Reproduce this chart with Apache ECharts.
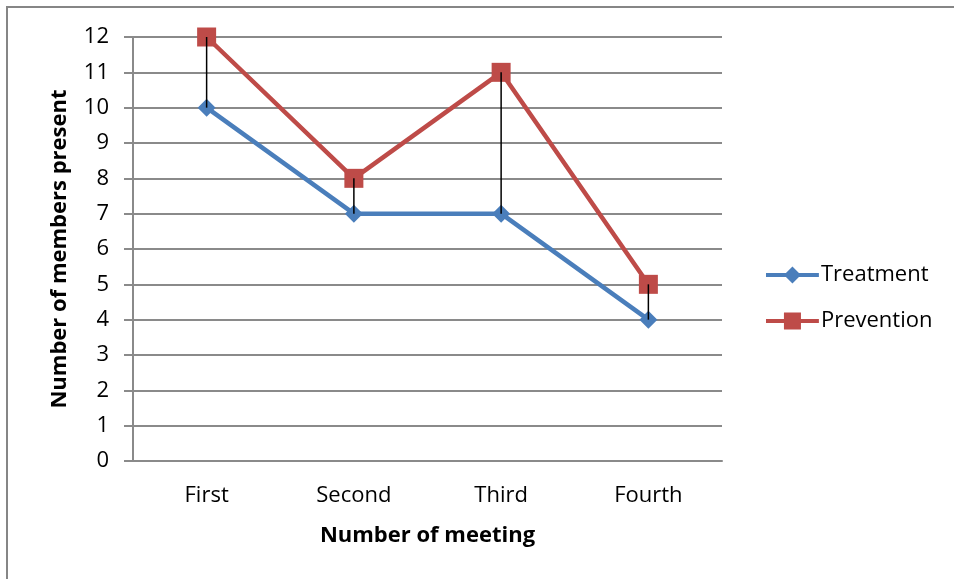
<!DOCTYPE html>
<html>
<head>
<meta charset="utf-8">
<script src="https://cdn.jsdelivr.net/npm/echarts@6/dist/echarts.min.js"></script>
<style>
  html, body { margin: 0; padding: 0; background: #fff; }
  #chart { width: 954px; height: 579px; }
</style>
</head>
<body>
<div id="chart"></div>
<script>
// Attendance per meeting for the two committees
const meetings = ['First', 'Second', 'Third', 'Fourth'];
const treatment = [10, 7, 7, 4];
const prevention = [12, 8, 11, 5];
const yTicks = { min: 0, max: 12, interval: 1 };

const FONT = '"Open Sans", Lato, sans-serif';
const BLUE = '#4A7EBB';
const RED = '#BE4B48';
const GRID = '#8a8a8a';

// legend keys: a thick line segment with the series marker in the middle
const ICON_DIAMOND = 'path://M0,7 H56 V11 H0 Z M28,0 L37,9 L28,18 L19,9 Z';
const ICON_SQUARE = 'path://M0,7 H56 V11 H0 Z M19,0 H37 V18 H19 Z';

// high-low pairs for the vertical connector lines
const highLow = meetings.map((m, i) => [i, Math.min(treatment[i], prevention[i]), Math.max(treatment[i], prevention[i])]);

const chart = echarts.init(document.getElementById('chart'));
chart.setOption({
  animation: false,
  graphic: [{
    type: 'rect',
    shape: { x: 7, y: 7, width: 1000, height: 1000 },
    style: { fill: 'none', stroke: '#868686', lineWidth: 2 },
    silent: true,
    z: -1
  }],
  grid: { left: 133, right: 232, top: 37, bottom: 118 },
  legend: {
    orient: 'vertical',
    left: 761,
    top: 259,
    itemGap: 24,
    itemWidth: 57,
    itemHeight: 17,
    textStyle: { fontFamily: FONT, fontSize: 22, color: '#000', padding: [0, 0, 0, -5] },
    data: [
      { name: 'Treatment', icon: ICON_DIAMOND },
      { name: 'Prevention', icon: ICON_SQUARE }
    ]
  },
  xAxis: {
    type: 'category',
    data: meetings,
    boundaryGap: true,
    axisLine: { show: true, lineStyle: { color: GRID, width: 2 } },
    axisTick: { show: false },
    axisLabel: { fontFamily: FONT, fontSize: 22, color: '#000', margin: 24 },
    name: 'Number of meeting',
    nameLocation: 'middle',
    nameGap: 64,
    nameTextStyle: { fontFamily: FONT, fontSize: 22, fontWeight: 'bold', color: '#000' }
  },
  yAxis: {
    type: 'value',
    min: yTicks.min,
    max: yTicks.max,
    interval: yTicks.interval,
    axisLine: { show: true, lineStyle: { color: GRID, width: 2 } },
    axisTick: { show: true, length: 9, lineStyle: { color: GRID, width: 2 } },
    axisLabel: { fontFamily: FONT, fontSize: 22, color: '#000', margin: 24 },
    splitLine: { show: true, lineStyle: { color: GRID, width: 2 } },
    name: 'Number of members present',
    nameLocation: 'middle',
    nameGap: 62,
    nameRotate: 90,
    nameTextStyle: { fontFamily: FONT, fontSize: 22, fontWeight: 'bold', color: '#000' }
  },
  series: [
    {
      name: 'Treatment',
      type: 'line',
      data: treatment,
      symbol: 'diamond',
      symbolSize: 18,
      lineStyle: { color: BLUE, width: 4.5 },
      itemStyle: { color: BLUE },
      z: 3
    },
    {
      name: 'Prevention',
      type: 'line',
      data: prevention,
      symbol: 'rect',
      symbolSize: 19,
      lineStyle: { color: RED, width: 4.5 },
      itemStyle: { color: RED },
      z: 4
    },
    {
      name: 'HighLow',
      type: 'custom',
      data: highLow,
      z: 10,
      renderItem: function (params, api) {
        const lo = api.coord([api.value(0), api.value(1)]);
        const hi = api.coord([api.value(0), api.value(2)]);
        return {
          type: 'line',
          shape: { x1: lo[0], y1: lo[1], x2: hi[0], y2: hi[1] },
          style: { stroke: '#000', lineWidth: 1.5 }
        };
      }
    }
  ]
});
</script>
</body>
</html>
